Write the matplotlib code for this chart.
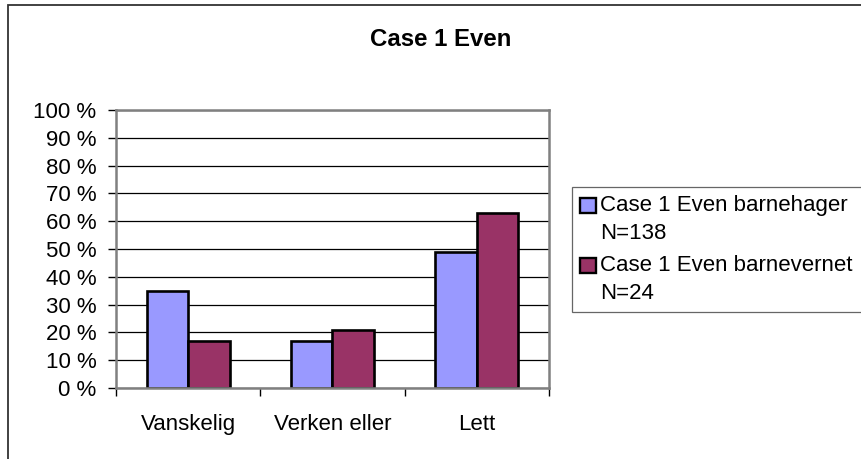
import matplotlib
matplotlib.use("Agg")
import matplotlib.pyplot as plt
from matplotlib.patches import Rectangle
from matplotlib.legend_handler import HandlerPatch
from matplotlib.container import BarContainer

plt.rcParams['font.family'] = ['Liberation Sans', 'DejaVu Sans']

# ---- data ----
categories = ["Vanskelig", "Verken eller", "Lett"]
series_names = ["Case 1 Even barnehager\nN=138", "Case 1 Even barnevernet\nN=24"]
barnehager = [35, 17, 49]
barnevernet = [17, 21, 63]
y_ticks = [0, 10, 20, 30, 40, 50, 60, 70, 80, 90, 100]
y_tick_labels = ["0 %", "10 %", "20 %", "30 %", "40 %", "50 %", "60 %", "70 %", "80 %", "90 %", "100 %"]
title = "Case 1 Even"

colors = ["#9999FF", "#993366"]
W, H = 862, 459
fig = plt.figure(figsize=(W / 100, H / 100), dpi=100)

ax = fig.add_axes([116 / W, 1 - 388 / H, (549 - 116) / W, (388 - 110) / H])

x = list(range(len(categories)))
bw = 0.2875
b1 = ax.bar([i - bw / 2 for i in x], barnehager, width=bw, color=colors[0],
            edgecolor="black", linewidth=1.9, zorder=3, label=series_names[0])
b2 = ax.bar([i + bw / 2 for i in x], barnevernet, width=bw, color=colors[1],
            edgecolor="black", linewidth=1.9, zorder=3, label=series_names[1])

ax.set_xlim(-0.5, len(categories) - 0.5)
ax.set_ylim(0, 100)
ax.set_yticks(y_ticks)
ax.set_yticklabels(y_tick_labels, fontsize=16)
ax.tick_params(axis="y", length=6, width=1.0, color="black", pad=8)

ax.set_xticks([i - 0.5 for i in range(len(categories) + 1)])
ax.set_xticklabels([])
ax.tick_params(axis="x", which="major", length=6, width=1.0, color="black")
ax.set_xticks(x, minor=True)
ax.set_xticklabels(categories, minor=True, fontsize=16)
ax.tick_params(axis="x", which="minor", length=0, pad=19)

ax.yaxis.grid(True, color="black", linewidth=0.9, zorder=0)
ax.set_axisbelow(True)
for s in ax.spines.values():
    s.set_color("#808080")
    s.set_linewidth(1.8)
    s.set_zorder(4)

fig.text(441 / W, 1 - 46 / H, title, ha="center", va="baseline",
         fontsize=17.3, fontweight="bold")


class UpperPatch(HandlerPatch):
    def create_artists(self, legend, orig_handle, xdescent, ydescent,
                       width, height, fontsize, trans):
        shift = 0.66 * fontsize
        src = orig_handle.patches[0]
        p = Rectangle(xy=(-xdescent, -ydescent + shift), width=width, height=height,
                      facecolor=src.get_facecolor(), edgecolor="black",
                      linewidth=1.7, transform=trans)
        return [p]


leg = fig.legend(handles=[b1, b2], labels=series_names,
                 loc="upper left",
                 bbox_to_anchor=(572 / W, 1 - 311 / H, 292 / W, 124 / H),
                 mode="expand", borderaxespad=0,
                 fontsize=16, frameon=True, fancybox=False, shadow=False,
                 borderpad=0.38, labelspacing=0.52, handlelength=0.68,
                 handleheight=0.68, handletextpad=0.2,
                 handler_map={BarContainer: UpperPatch()})
for t in leg.get_texts():
    t.set_linespacing(1.4)
leg.get_frame().set_edgecolor("#404040")
leg.get_frame().set_linewidth(0.9)

fig.patches.append(Rectangle((8 / W, -0.2), 2.0, (H - 5) / H + 0.2,
                             transform=fig.transFigure, fill=False,
                             edgecolor="#333333", linewidth=1.3, clip_on=False))

fig.savefig("out.png", dpi=100)
